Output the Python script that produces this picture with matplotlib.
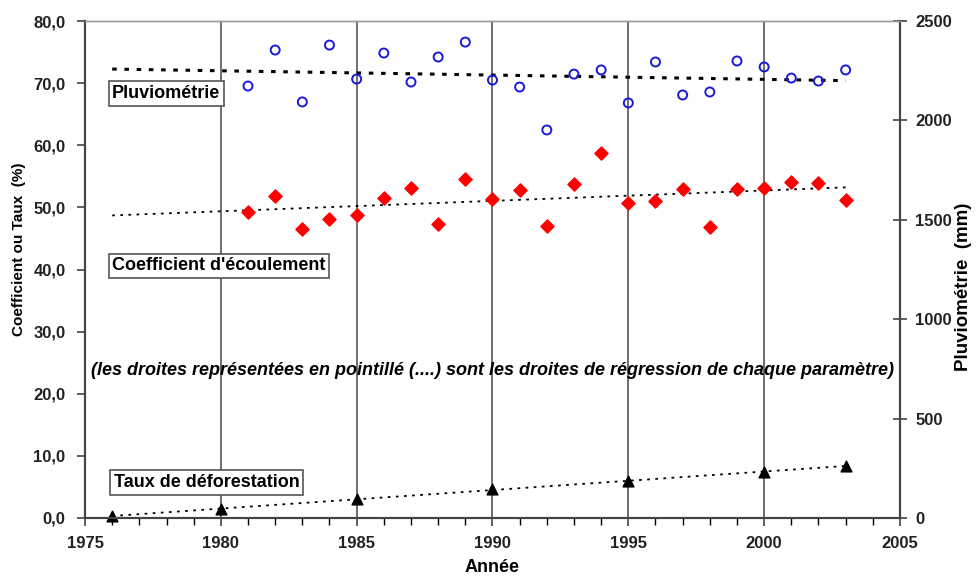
import numpy as np
import matplotlib.pyplot as plt
from matplotlib.ticker import FuncFormatter, MultipleLocator

plt.rcParams['font.family'] = ['Liberation Sans', 'DejaVu Sans']

years = list(range(1981, 2004))
pluvio = [2173, 2354, 2093, 2379, 2208, 2339, 2193, 2319, 2394, 2203, 2168, 1952,
          2233, 2254, 2088, 2294, 2128, 2143, 2299, 2269, 2213, 2198, 2254]
coef = [49.3, 51.9, 46.5, 48.1, 48.8, 51.5, 53.1, 47.3, 54.6, 51.4, 52.8, 47.0,
        53.8, 58.8, 50.7, 51.0, 53.0, 46.9, 53.0, 53.1, 54.1, 53.9, 51.2]
def_years = [1976, 1980, 1985, 1990, 1995, 2000, 2003]
deforest = [0.3, 1.5, 3.0, 4.6, 6.0, 7.4, 8.4]

fig = plt.figure(figsize=(9.76, 5.76), dpi=100)
ax = fig.add_axes([0.0871, 0.1007, 0.835, 0.8628])
ax2 = ax.twinx()

# regression lines, extended back to 1976
xr = np.array([1976, 2003])
p = np.polyfit(years, pluvio, 1)
ax2.plot(xr, np.polyval(p, xr), color='black', ls=(0, (1.5, 2.5)), lw=2.2, zorder=2)
c = np.polyfit(years, coef, 1)
ax.plot(xr, np.polyval(c, xr), color='black', ls=(0, (1.5, 3)), lw=1.3, zorder=2)
d = np.polyfit(def_years, deforest, 1)
ax.plot(xr, np.polyval(d, xr), color='black', ls=(0, (1.5, 3)), lw=1.3, zorder=2)

ax.scatter(years, coef, marker='D', s=45, color='#ff0000', edgecolor='#ff0000', zorder=4)
ax.scatter(def_years, deforest, marker='^', s=60, color='black', zorder=4, clip_on=False)
ax2.scatter(years, pluvio, marker='o', s=42, facecolor='none', edgecolor='#1a1adc',
            linewidth=1.4, zorder=4)

ax.set_xlim(1975, 2005)
ax.set_ylim(0, 80)
ax2.set_ylim(0, 2500)
ax.xaxis.set_major_locator(MultipleLocator(5))
ax.xaxis.set_minor_locator(MultipleLocator(1))
ax.yaxis.set_major_locator(MultipleLocator(10))
ax2.yaxis.set_major_locator(MultipleLocator(500))
ax.yaxis.set_major_formatter(FuncFormatter(lambda v, pos: f"{v:.1f}".replace('.', ',')))

ax.grid(axis='x', color='#555555', lw=1.2)
ax.set_axisbelow(True)

for a in (ax, ax2):
    for s in a.spines.values():
        s.set_color('#444444')
        s.set_linewidth(1.5)
    a.spines['top'].set_color('#999999')
    a.spines['top'].set_linewidth(1.0)
    a.tick_params(labelsize=12, colors='#444444', labelcolor='#222222', width=1.2)
    for lab in a.get_yticklabels() + a.get_xticklabels():
        lab.set_fontweight('bold')
ax.tick_params(axis='x', which='major', length=6, direction='out', pad=7)
ax.tick_params(axis='x', which='minor', length=5, direction='out', width=1.0)
ax.tick_params(axis='y', length=6, direction='out', pad=8)
ax2.tick_params(axis='y', length=10, direction='inout', pad=6)

ax.set_xlabel('Année', fontsize=13, fontweight='bold')
ax.xaxis.set_label_coords(0.5, -0.082)
ax.set_ylabel('Coefficient ou Taux  (%)', fontsize=11, fontweight='bold')
ax.yaxis.set_label_coords(-0.0725, 0.541)
ax2.set_ylabel('Pluviométrie  (mm)', fontsize=13.5, fontweight='bold')
ax2.yaxis.set_label_coords(1.068, 0.465)

box = dict(boxstyle='square,pad=0.2', facecolor='white', edgecolor='#555555', lw=1.2)
ax.text(1976.0, 67.6, 'Pluviométrie', fontsize=13, fontweight='bold', bbox=box, zorder=5)
ax.text(1976.0, 39.9, "Coefficient d'écoulement", fontsize=13, fontweight='bold',
        bbox=box, zorder=5)
ax.text(1976.05, 5.0, 'Taux de déforestation', fontsize=13, fontweight='bold',
        bbox=box, zorder=5)
ax.text(1990.0, 23.8,
        "(les droites représentées en pointillé (....) sont les droites de régression de chaque paramètre)",
        fontsize=13, fontweight='bold', fontstyle='italic', ha='center', va='center', zorder=5)

fig.savefig('out.png', dpi=100)
